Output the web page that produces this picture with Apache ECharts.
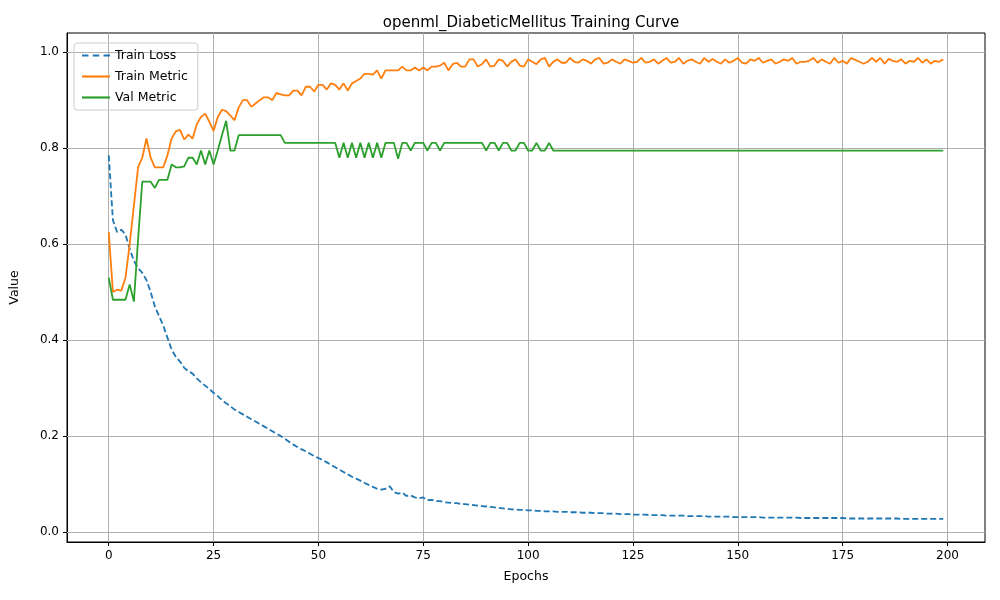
<!DOCTYPE html>
<html lang="en">
<head>
<meta charset="UTF-8">
<title>openml_DiabeticMellitus Training Curve</title>
<script src="https://cdn.jsdelivr.net/npm/echarts@6/dist/echarts.min.js"></script>
<style>
  html, body { margin: 0; padding: 0; background: #fff; }
  #container { width: 1000px; height: 600px; }
</style>
</head>
<body>
<div id="container"></div>
<script>
var xTicks = [0, 25, 50, 75, 100, 125, 150, 175, 200];
var yTicks = [0.0, 0.2, 0.4, 0.6, 0.8, 1.0];

var trainLoss = [
  0.785, 0.650, 0.625, 0.630, 0.620, 0.590, 0.565, 0.550, 0.540, 0.525,
  0.500, 0.470, 0.450, 0.430, 0.405, 0.380, 0.365, 0.355, 0.342, 0.335,
  0.330, 0.320, 0.312, 0.305, 0.298, 0.290, 0.283, 0.275, 0.268, 0.262,
  0.255, 0.250, 0.245, 0.240, 0.235, 0.230, 0.225, 0.220, 0.215, 0.210,
  0.205, 0.200, 0.194, 0.188, 0.182, 0.177, 0.172, 0.168, 0.163, 0.158,
  0.154, 0.150, 0.145, 0.140, 0.135, 0.130, 0.125, 0.120, 0.115, 0.111,
  0.107, 0.102, 0.098, 0.094, 0.090, 0.088, 0.090, 0.095, 0.083, 0.080,
  0.082, 0.075, 0.076, 0.072, 0.070, 0.072, 0.066, 0.067, 0.064, 0.064,
  0.062, 0.061, 0.060, 0.060, 0.058, 0.058, 0.057, 0.056, 0.055, 0.054,
  0.053, 0.052, 0.051, 0.050, 0.049, 0.048, 0.047, 0.047, 0.046, 0.046,
  0.045, 0.045, 0.044, 0.044, 0.043, 0.043, 0.043, 0.042, 0.042, 0.042,
  0.041, 0.041, 0.041, 0.040, 0.040, 0.040, 0.039, 0.039, 0.039, 0.038,
  0.038, 0.038, 0.037, 0.037, 0.037, 0.036, 0.036, 0.036, 0.036, 0.035,
  0.035, 0.035, 0.035, 0.034, 0.034, 0.034, 0.034, 0.034, 0.033, 0.033,
  0.033, 0.033, 0.033, 0.032, 0.032, 0.032, 0.032, 0.032, 0.032, 0.031,
  0.031, 0.031, 0.031, 0.031, 0.031, 0.031, 0.030, 0.030, 0.030, 0.030,
  0.030, 0.030, 0.030, 0.030, 0.030, 0.029, 0.029, 0.029, 0.029, 0.029,
  0.029, 0.029, 0.029, 0.029, 0.029, 0.029, 0.028, 0.028, 0.028, 0.028,
  0.028, 0.028, 0.028, 0.028, 0.028, 0.028, 0.028, 0.028, 0.028, 0.027,
  0.027, 0.027, 0.027, 0.027, 0.027, 0.027, 0.027, 0.027, 0.027, 0.027
];

var trainMetric = [
  0.625, 0.500, 0.505, 0.503, 0.530, 0.600, 0.680, 0.760, 0.780, 0.820,
  0.780, 0.760, 0.760, 0.760, 0.785, 0.820, 0.835, 0.838, 0.818, 0.828,
  0.820, 0.850, 0.865, 0.872, 0.855, 0.836, 0.865, 0.880, 0.877, 0.868,
  0.858, 0.885, 0.900, 0.900, 0.886, 0.893, 0.900, 0.906, 0.906, 0.900,
  0.915, 0.912, 0.910, 0.910, 0.920, 0.920, 0.910, 0.928, 0.928, 0.918,
  0.932, 0.932, 0.922, 0.935, 0.932, 0.922, 0.935, 0.920, 0.935, 0.940,
  0.945, 0.955, 0.955, 0.953, 0.962, 0.945, 0.962, 0.962, 0.962, 0.962,
  0.970, 0.962, 0.962, 0.968, 0.962, 0.968, 0.962, 0.970, 0.970, 0.972,
  0.978, 0.962, 0.975, 0.978, 0.970, 0.970, 0.985, 0.985, 0.970, 0.975,
  0.985, 0.970, 0.972, 0.985, 0.982, 0.970, 0.980, 0.985, 0.972, 0.970,
  0.985, 0.980, 0.975, 0.985, 0.988, 0.970, 0.980, 0.985, 0.978, 0.978,
  0.988, 0.980, 0.978, 0.985, 0.982, 0.976, 0.985, 0.988, 0.976, 0.978,
  0.985, 0.980, 0.976, 0.985, 0.982, 0.978, 0.980, 0.988, 0.978, 0.980,
  0.985, 0.976, 0.982, 0.988, 0.978, 0.980, 0.988, 0.976, 0.982, 0.985,
  0.980, 0.976, 0.988, 0.980, 0.986, 0.980, 0.976, 0.985, 0.978, 0.982,
  0.988, 0.978, 0.976, 0.985, 0.982, 0.988, 0.978, 0.982, 0.985, 0.976,
  0.980, 0.985, 0.982, 0.988, 0.976, 0.980, 0.980, 0.982, 0.988, 0.978,
  0.985, 0.980, 0.976, 0.988, 0.978, 0.982, 0.976, 0.988, 0.984, 0.980,
  0.976, 0.980, 0.988, 0.980, 0.988, 0.976, 0.986, 0.982, 0.980, 0.985,
  0.976, 0.982, 0.980, 0.988, 0.978, 0.985, 0.976, 0.982, 0.980, 0.985
];

var valMetric = [
  0.530, 0.484, 0.484, 0.484, 0.484, 0.516, 0.480, 0.610, 0.730, 0.730,
  0.730, 0.717, 0.734, 0.734, 0.734, 0.766, 0.760, 0.760, 0.762, 0.780,
  0.780, 0.766, 0.795, 0.766, 0.795, 0.766, 0.795, 0.827, 0.857, 0.795,
  0.795, 0.827, 0.827, 0.827, 0.827, 0.827, 0.827, 0.827, 0.827, 0.827,
  0.827, 0.827, 0.811, 0.811, 0.811, 0.811, 0.811, 0.811, 0.811, 0.811,
  0.811, 0.811, 0.811, 0.811, 0.811, 0.780, 0.811, 0.780, 0.811, 0.780,
  0.811, 0.780, 0.811, 0.780, 0.811, 0.780, 0.811, 0.811, 0.811, 0.778,
  0.811, 0.811, 0.795, 0.811, 0.811, 0.811, 0.795, 0.811, 0.811, 0.795,
  0.811, 0.811, 0.811, 0.811, 0.811, 0.811, 0.811, 0.811, 0.811, 0.811,
  0.795, 0.811, 0.811, 0.795, 0.811, 0.811, 0.795, 0.795, 0.811, 0.811,
  0.795, 0.795, 0.811, 0.795, 0.795, 0.811, 0.795, 0.795, 0.795, 0.795,
  0.795, 0.795, 0.795, 0.795, 0.795, 0.795, 0.795, 0.795, 0.795, 0.795,
  0.795, 0.795, 0.795, 0.795, 0.795, 0.795, 0.795, 0.795, 0.795, 0.795,
  0.795, 0.795, 0.795, 0.795, 0.795, 0.795, 0.795, 0.795, 0.795, 0.795,
  0.795, 0.795, 0.795, 0.795, 0.795, 0.795, 0.795, 0.795, 0.795, 0.795,
  0.795, 0.795, 0.795, 0.795, 0.795, 0.795, 0.795, 0.795, 0.795, 0.795,
  0.795, 0.795, 0.795, 0.795, 0.795, 0.795, 0.795, 0.795, 0.795, 0.795,
  0.795, 0.795, 0.795, 0.795, 0.795, 0.795, 0.795, 0.795, 0.795, 0.795,
  0.795, 0.795, 0.795, 0.795, 0.795, 0.795, 0.795, 0.795, 0.795, 0.795,
  0.795, 0.795, 0.795, 0.795, 0.795, 0.795, 0.795, 0.795, 0.795, 0.795
];

function pairs(arr) {
  var out = [];
  for (var i = 0; i < arr.length; i++) out.push([i, arr[i]]);
  return out;
}

var font = 'DejaVu Sans';
var gridLines = [];
xTicks.forEach(function (v) { gridLines.push({ xAxis: v }); });
yTicks.forEach(function (v) { gridLines.push({ yAxis: v }); });

var myChart = echarts.init(document.getElementById('container'));
var option = {
  animation: false,
  backgroundColor: '#fff',
  textStyle: { fontFamily: font },
  title: {
    text: 'openml_DiabeticMellitus Training Curve',
    left: 526, top: 11, textAlign: 'center',
    textStyle: { fontFamily: font, fontSize: 15, fontWeight: 'normal', color: '#000' }
  },
  legend: {
    orient: 'vertical', left: 74, top: 43,
    itemWidth: 28, itemHeight: 10, itemGap: 8,
    padding: [6, 10, 6, 8],
    borderColor: '#ccc', borderWidth: 1, borderRadius: 3,
    textStyle: { fontFamily: font, fontSize: 12.5, color: '#000' },
    data: [
      { name: 'Train Loss', icon: 'path://M0,4 L6,4 L6,6 L0,6 Z M10,4 L16,4 L16,6 L10,6 Z M20,4 L26,4 L26,6 L20,6 Z' },
      { name: 'Train Metric', icon: 'path://M0,4 L26,4 L26,6 L0,6 Z' },
      { name: 'Val Metric', icon: 'path://M0,4 L26,4 L26,6 L0,6 Z' }
    ]
  },
  grid: { left: 67, right: 15, top: 33, bottom: 58, show: true, borderColor: '#000', borderWidth: 1 },
  xAxis: {
    type: 'value', min: -9.95, max: 208.95,
    name: 'Epochs', nameLocation: 'middle', nameGap: 28,
    nameTextStyle: { fontFamily: font, fontSize: 12.5, color: '#000' },
    axisLine: { show: true, onZero: false, lineStyle: { color: '#000' } },
    axisTick: { show: true, customValues: xTicks, length: 4, lineStyle: { color: '#000' } },
    axisLabel: { customValues: xTicks, fontFamily: font, fontSize: 12, color: '#000' },
    splitLine: { show: false }
  },
  yAxis: {
    type: 'value', min: -0.021, max: 1.04,
    name: 'Value', nameLocation: 'middle', nameGap: 46,
    nameTextStyle: { fontFamily: font, fontSize: 12.5, color: '#000' },
    axisLine: { show: true, onZero: false, lineStyle: { color: '#000' } },
    axisTick: { show: true, customValues: yTicks, length: 4, lineStyle: { color: '#000' } },
    axisLabel: {
      customValues: yTicks, fontFamily: font, fontSize: 12, color: '#000',
      formatter: function (v) { return v.toFixed(1); }
    },
    splitLine: { show: false }
  },
  series: [
    {
      name: 'Train Loss', type: 'line', data: pairs(trainLoss), showSymbol: false,
      color: '#1f77b4', lineStyle: { width: 1.8, type: [6, 3] }, z: 3,
      markLine: {
        silent: true, symbol: 'none', label: { show: false },
        lineStyle: { color: '#b0b0b0', width: 1, type: 'solid' },
        data: gridLines, z: 1
      }
    },
    {
      name: 'Train Metric', type: 'line', data: pairs(trainMetric), showSymbol: false,
      color: '#ff7f0e', lineStyle: { width: 1.8 }, z: 3
    },
    {
      name: 'Val Metric', type: 'line', data: pairs(valMetric), showSymbol: false,
      color: '#2ca02c', lineStyle: { width: 1.8 }, z: 3
    }
  ]
};
myChart.setOption(option);
</script>
</body>
</html>
